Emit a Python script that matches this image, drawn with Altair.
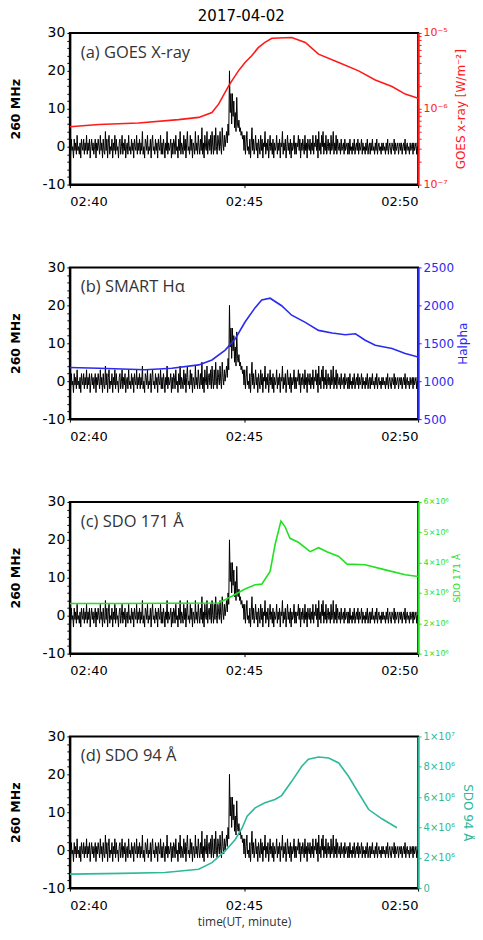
import altair as alt
import pandas as pd

# ---- 260 MHz radio flux (same curve in every panel), 1.25 s cadence ----
radio_m0 = [1, -2, 2, -1, 0, -3, 2, -1, 1, -2, 3, -1, 0, -2, 1, -3, 2, 0, -1, 2, -2, 1, -1, 3,
            -2, 1, -1, 2, -3, 0, 2, -1, 1, -2, 0, 2, -3, 1, -1, 2, 0, -2, 3, -1, 1, -3, 2, -1]
radio_m1 = [-2, 4, -1, 2, -3, 1, 3, -2, 0, -1, 2, -3, 1, -1, 3, -2, 2, -1, 0, -3, 1, 2, -2, 0,
            3, -2, 1, -1, 2, -3, 0, 1, -2, 3, -1, 0, -2, 2, -1, 1, -3, 2, 0, -1, 3, -2, 1, -1]
radio_m2 = [2, -2, 1, -1, 4, -2, 0, -3, 2, 1, -1, 3, -2, 0, -1, 2, -3, 1, 3, -1, 0, -2, 2, -1,
            1, -3, 2, 0, -1, 3, -2, 1, -2, 2, 0, -3, 1, -1, 4, -2, 1, -1, 0, 2, -3, 1, -2, 2]
radio_m3 = [1, -2, 3, -1, 0, -3, 2, -1, 4, -2, 1, 0, -2, 3, -1, 2, -3, 1, 4, -1, 0, -2, 3, -1,
            2, -3, 1, 0, -2, 4, -1, 1, -2, 3, 0, -2, 2, -1, 5, -2, 1, -3, 3, 0, -1, 4, -2, 1]
radio_m4 = [2, -1, 3, -2, 4, 0, -2, 3, -1, 5, 0, -2, 3, 1, -1, 4, 0, -2, 5, 1, -1, 3, 0, 2,
            4, 1, 6, 3, 20, 9, 14, 6, 14, 8, 12, 5, 9, 4, 13, 6, 5, 7, 4, 5, 3, 4, 2, 3]
radio_m5 = [-1, 3, -2, 1, 4, -1, 0, -2, 2, -3, 1, 5, -1, 2, -2, 0, 3, -1, 1, -3, 2, 0, -2, 3,
            -1, 2, -3, 1, 0, 4, -2, 1, -1, 2, -3, 0, 3, -1, 1, -2, 2, -3, 1, -1, 0, 3, -2, 1]
radio_m6 = [-1, 2, -3, 1, 0, 4, -2, 1, -1, 2, -3, 0, 3, -1, 1, -2, 2, -3, 1, -1, 0, 3, -2, 1,
            -2, 1, 0, 3, -1, 2, -3, 1, -1, 2, 0, -2, 3, -1, 1, -3, 2, 0, -1, 2, -2, 1, -1, 3]
radio_m7 = [-2, 1, 0, 3, -1, 2, -3, 4, -1, 1, -2, 3, 0, 4, -2, 1, -1, 3, -2, 0, 2, -1, 1, -2,
            3, -1, 0, 4, -2, 1, -1, 3, -2, 2, 0, -1, 1, -2, 2, -1, 0, 1, -2, 2, -1, 0, 1, -2]
radio_m8 = [1, -2, 2, -1, 0, -2, 1, -1, 2, -2, 0, 1, -1, 2, -2, 1, -1, 0, 2, -2, 1, -1, 0, -2,
            1, -1, 2, -2, 0, 1, -2, 1, -1, 2, -1, 0, -2, 1, -1, 2, -2, 0, 1, -1, 0, -2, 1, -1]
radio_m9 = [1, -1, 0, -2, 1, -1, 2, -2, 0, 1, -1, -2, 1, 0, -1, 2, -2, 1, -1, 0, 1, -2, 0, 1,
            -1, 1, -2, 0, 1, -1, 2, -2, 0, 1, -1, 0, -2, 1, -1, 0, 1, -2, 1, -1, 0, 1, -2, 0]
radio_end = [0]
radio_vals = (radio_m0 + radio_m1 + radio_m2 + radio_m3 + radio_m4 + radio_m5
              + radio_m6 + radio_m7 + radio_m8 + radio_m9 + radio_end)
radio_step = 1.0 / 48.0  # minutes
radio_t = [i * radio_step for i in range(len(radio_vals))]

# ---- GOES X-ray flux (W/m^2) ----
goes_t = [0, 0.83, 1.97, 3.12, 3.70, 4.08, 4.27, 4.56, 4.65, 4.84, 5.03, 5.22, 5.41, 5.60,
          5.80, 6.37, 6.76, 7.14, 7.72, 8.29, 8.77, 9.25, 9.63, 10.0]
goes_v = [5.8e-7, 6.2e-7, 6.5e-7, 7.2e-7, 7.7e-7, 8.9e-7, 1.15e-6, 2.0e-6, 2.33e-6, 3.16e-6,
          4.07e-6, 5.0e-6, 6.4e-6, 7.5e-6, 8.5e-6, 8.7e-6, 7.5e-6, 5.25e-6, 4.07e-6, 3.16e-6,
          2.39e-6, 1.97e-6, 1.56e-6, 1.38e-6]

# ---- SMART H-alpha ----
ha_t = [0, 0.83, 2.16, 2.93, 3.70, 4.08, 4.46, 4.75, 5.03, 5.32, 5.51, 5.75, 6.08, 6.37,
        6.76, 7.14, 7.53, 7.91, 8.20, 8.48, 8.77, 9.25, 9.63, 10.0]
ha_v = [1180, 1170, 1150, 1170, 1215, 1280, 1410, 1560, 1780, 1970, 2070, 2094, 1995, 1870,
        1775, 1670, 1635, 1613, 1625, 1540, 1475, 1430, 1365, 1320]

# ---- SDO 171 A ----
a171_t = [0, 1.49, 4.27, 4.65, 5.03, 5.32, 5.51, 5.75, 5.89, 6.06, 6.18, 6.32, 6.56, 6.90,
          7.14, 7.38, 7.72, 7.96, 8.48, 9.06, 9.63, 10.0]
a171_v = [2.65e6, 2.65e6, 2.67e6, 2.89e6, 3.13e6, 3.27e6, 3.29e6, 3.71e6, 4.58e6, 5.37e6,
          5.18e6, 4.80e6, 4.67e6, 4.36e6, 4.49e6, 4.36e6, 4.20e6, 3.95e6, 3.93e6, 3.76e6,
          3.60e6, 3.54e6]

# ---- SDO 94 A ----
a94_t = [0, 1.49, 2.73, 3.70, 4.08, 4.46, 4.75, 4.95, 5.09, 5.32, 5.60, 5.89, 6.08, 6.37,
         6.66, 6.85, 7.14, 7.43, 7.72, 8.00, 8.29, 8.58, 8.96, 9.39]
a94_v = [0.92e6, 0.97e6, 1.03e6, 1.24e6, 1.68e6, 2.45e6, 3.21e6, 3.98e6, 4.74e6, 5.29e6,
         5.62e6, 5.84e6, 6.10e6, 7.04e6, 8.03e6, 8.50e6, 8.64e6, 8.58e6, 8.25e6, 7.37e6,
         6.27e6, 5.18e6, 4.57e6, 3.98e6]

x_ticks = [0, 5, 10]
left_ticks = list(range(-10, 31, 2))

radio_df = pd.DataFrame({"t": radio_t, "v": radio_vals})

W, H = 349, 152


def x_enc(show_title):
    return alt.X(
        "t:Q",
        scale=alt.Scale(domain=[0, 10], nice=False, zero=False),
        axis=alt.Axis(
            values=x_ticks,
            labelExpr="datum.value == 0 ? '02:40' : datum.value == 5 ? '02:45' : '02:50'",
            title="time(UT, minute)" if show_title else None,
            titleFont="Open Sans", titleFontSize=12, titleFontWeight="normal",
            titleColor="#333333", titlePadding=4,
            labelFont="DejaVu Sans", labelFontSize=13, labelColor="black",
            labelPadding=8, tickSize=3, tickColor="black",
            domainColor="black", domainWidth=2, grid=False,
        ),
    )


def panel(df, color, yscale, yaxis, label, show_x_title=False):
    black = alt.Chart(radio_df).mark_line(color="black", strokeWidth=1, clip=True).encode(
        x=x_enc(show_x_title),
        y=alt.Y(
            "v:Q",
            scale=alt.Scale(domain=[-10, 30], nice=False, zero=False),
            axis=alt.Axis(
                values=left_ticks,
                labelExpr="datum.value % 10 == 0 ? datum.value : ''",
                title="260 MHz", titleFont="DejaVu Sans", titleFontSize=12.5,
                titleFontWeight="bold", titleColor="black", titlePadding=20,
                labelFont="DejaVu Sans", labelFontSize=14, labelColor="black",
                labelPadding=2, tickSize=3, tickColor="black",
                domainColor="black", domainWidth=2, grid=False, labelOverlap=False,
            ),
        ),
    )
    colored = alt.Chart(df).mark_line(color=color, strokeWidth=1.6, clip=True).encode(
        x=x_enc(show_x_title),
        y=alt.Y("val:Q", scale=yscale, axis=yaxis),
    )
    text = alt.Chart(pd.DataFrame({"label": [label]})).mark_text(
        align="left", baseline="middle", font="Open Sans", fontSize=16.5, color="#333333"
    ).encode(x=alt.value(11), y=alt.value(20), text="label:N")
    return alt.layer(black, colored, text).resolve_scale(y="independent").properties(
        width=W, height=H
    )


def right_axis(color, values, label_expr, title, label_size, title_size, title_angle, title_pad):
    return alt.Axis(
        orient="right", values=values, labelExpr=label_expr, title=title,
        titleColor=color, titleFont="DejaVu Sans", titleFontSize=title_size,
        titleFontWeight="normal", titleAngle=title_angle, titlePadding=title_pad,
        titleBaseline="top" if title_angle == 270 else "bottom",
        labelColor=color, labelFont="DejaVu Sans", labelFontSize=label_size,
        labelPadding=2, tickColor=color, tickSize=3, domainColor=color, domainWidth=2,
        grid=False, labelOverlap=False,
    )


goes_df = pd.DataFrame({"t": goes_t, "val": goes_v})
ha_df = pd.DataFrame({"t": ha_t, "val": ha_v})
a171_df = pd.DataFrame({"t": a171_t, "val": a171_v})
a94_df = pd.DataFrame({"t": a94_t, "val": a94_v})

goes_ticks = [m * 10.0 ** e for e in (-7, -6) for m in range(1, 10)] + [1e-5]
pa = panel(
    goes_df, "#ff1a1a",
    alt.Scale(type="log", domain=[1e-7, 1e-5], nice=False),
    right_axis("#ff1a1a", goes_ticks,
               "abs(datum.value - 1e-7) < 1e-9 ? '10⁻⁷' : abs(datum.value - 1e-6) < 1e-8 ? '10⁻⁶' : abs(datum.value - 1e-5) < 1e-7 ? '10⁻⁵' : ''",
               "GOES x-ray [W/m⁻²]", 11, 12, 270, 8),
    "(a) GOES X-ray",
)
pb = panel(
    ha_df, "#2a2af0",
    alt.Scale(domain=[500, 2500], nice=False, zero=False),
    right_axis("#2a2af0", [500, 1000, 1500, 2000, 2500], "datum.value",
               "Halpha", 12, 12, 270, 4),
    "(b) SMART Hα",
)
pc = panel(
    a171_df, "#22e022",
    alt.Scale(domain=[1e6, 6e6], nice=False, zero=False),
    right_axis("#22e022", [1e6, 2e6, 3e6, 4e6, 5e6, 6e6],
               "format(datum.value / 1e6, 'd') + '×10⁶'",
               "SDO 171 Å", 8, 9, 270, 4),
    "(c) SDO 171 Å",
)
pd_ = panel(
    a94_df, "#2fb89a",
    alt.Scale(domain=[0, 1e7], nice=False, zero=False),
    right_axis("#2fb89a", [0, 2e6, 4e6, 6e6, 8e6, 1e7],
               "datum.value == 0 ? '0' : datum.value >= 1e7 ? '1×10⁷' : format(datum.value / 1e6, 'd') + '×10⁶'",
               "SDO 94 Å", 10, 12, 90, 6),
    "(d) SDO 94  Å",
    show_x_title=True,
)

chart = alt.vconcat(pa, pb, pc, pd_, spacing=50).properties(
    title=alt.TitleParams("2017-04-02", font="DejaVu Sans", fontSize=15,
                          fontWeight="normal", color="black", anchor="middle", offset=1),
    padding={"left": 0, "top": 0, "right": 0, "bottom": 0},
).configure_view(stroke="black", strokeWidth=2)

chart.save("out.html", embed_options={"renderer": "svg", "actions": False})
